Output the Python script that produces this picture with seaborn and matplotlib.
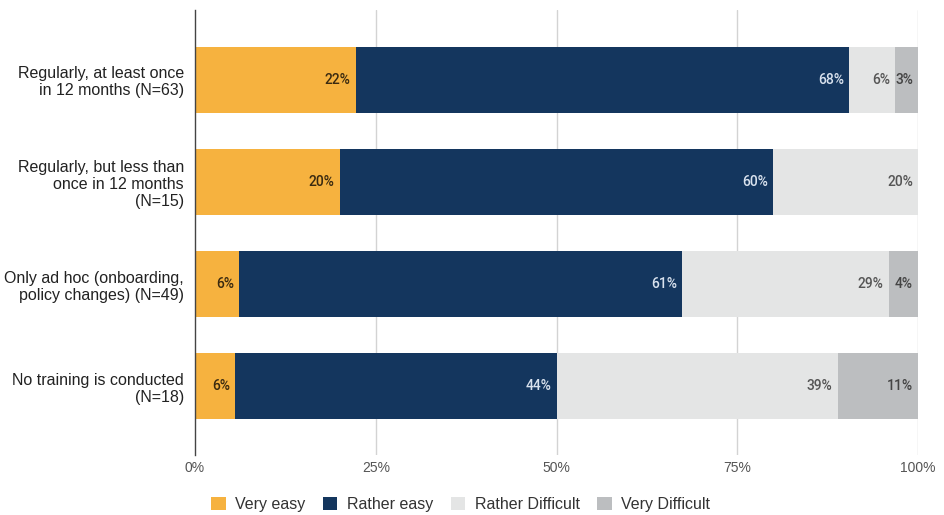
import matplotlib
matplotlib.use("Agg")
import matplotlib.pyplot as plt
from matplotlib.patches import Patch
import numpy as np
import pandas as pd
import seaborn as sns

# Survey responses: how easy is it to apply the training, by training frequency
categories = [
    "Regularly, at least once\nin 12 months (N=63)",
    "Regularly, but less than\nonce in 12 months\n(N=15)",
    "Only ad hoc (onboarding,\npolicy changes) (N=49)",
    "No training is conducted\n(N=18)",
]
group_sizes = [63, 15, 49, 18]
very_easy = [14, 3, 3, 1]
rather_easy = [43, 9, 30, 8]
rather_difficult = [4, 3, 14, 7]
very_difficult = [2, 0, 2, 2]

series_names = ["Very easy", "Rather easy", "Rather Difficult", "Very Difficult"]
series_colors = ["#F6B23F", "#14365E", "#E4E5E5", "#BCBEC0"]
label_colors = ["#3a2a10", "#D9E2EE", "#555555", "#444444"]
tick_labels = ["0%", "25%", "50%", "75%", "100%"]

counts = np.array([very_easy, rather_easy, rather_difficult, very_difficult], dtype=float)
shares = counts / np.array(group_sizes, dtype=float) * 100.0
cumulative = np.cumsum(shares, axis=0)

sns.set_theme(style="white")
plt.rcParams["font.family"] = ["Liberation Sans", "DejaVu Sans"]

fig = plt.figure(figsize=(9.44, 5.15), dpi=100)
ax = fig.add_axes([0.2066, 0.1165, 0.7659, 0.8641])

# Vertical grid lines behind the bars
for xv in [25, 50, 75, 100]:
    ax.axvline(xv, color="#D3D3D3", lw=1.0, zorder=0)

# Stacked bars: draw the cumulative totals from the outermost layer inward
for i in range(len(series_names) - 1, -1, -1):
    df = pd.DataFrame({"category": categories, "value": cumulative[i]})
    sns.barplot(data=df, x="value", y="category", orient="h", color=series_colors[i],
                width=0.645, saturation=1, ax=ax, zorder=2, linewidth=0)

# Value labels at the right end of each segment
for i in range(len(series_names)):
    for j in range(len(categories)):
        if shares[i, j] <= 0:
            continue
        ax.text(cumulative[i, j] - 0.7, j, f"{shares[i, j]:.0f}%", ha="right", va="center",
                fontsize=10, fontfamily=["Roboto", "DejaVu Sans"], fontweight="medium",
                color=label_colors[i], zorder=3)

ax.set_xlim(0, 100)
ax.set_ylim(3.67, -0.68)
ax.set_xticks([0, 25, 50, 75, 100])
ax.set_xticklabels(tick_labels, fontsize=10, color="#555555")
ax.set_xlabel("")
ax.set_ylabel("")
ax.tick_params(axis="y", labelsize=11.5, colors="#222222", length=0, pad=8)
ax.tick_params(axis="x", length=0, pad=4)
for lbl in ax.get_yticklabels():
    lbl.set_multialignment("right")

for side in ["top", "right", "bottom"]:
    ax.spines[side].set_visible(False)
ax.spines["left"].set_color("#444444")
ax.spines["left"].set_linewidth(1.0)
ax.spines["left"].set_zorder(4)

handles = [Patch(facecolor=c, edgecolor="none") for c in series_colors]
fig.legend(handles, series_names, loc="center", bbox_to_anchor=(0.488, 0.02), ncol=4,
           frameon=False, fontsize=11.5, handlelength=0.9, handleheight=0.9,
           handletextpad=0.6, columnspacing=1.1, labelcolor="#333333")

fig.savefig("out.png", dpi=100)
